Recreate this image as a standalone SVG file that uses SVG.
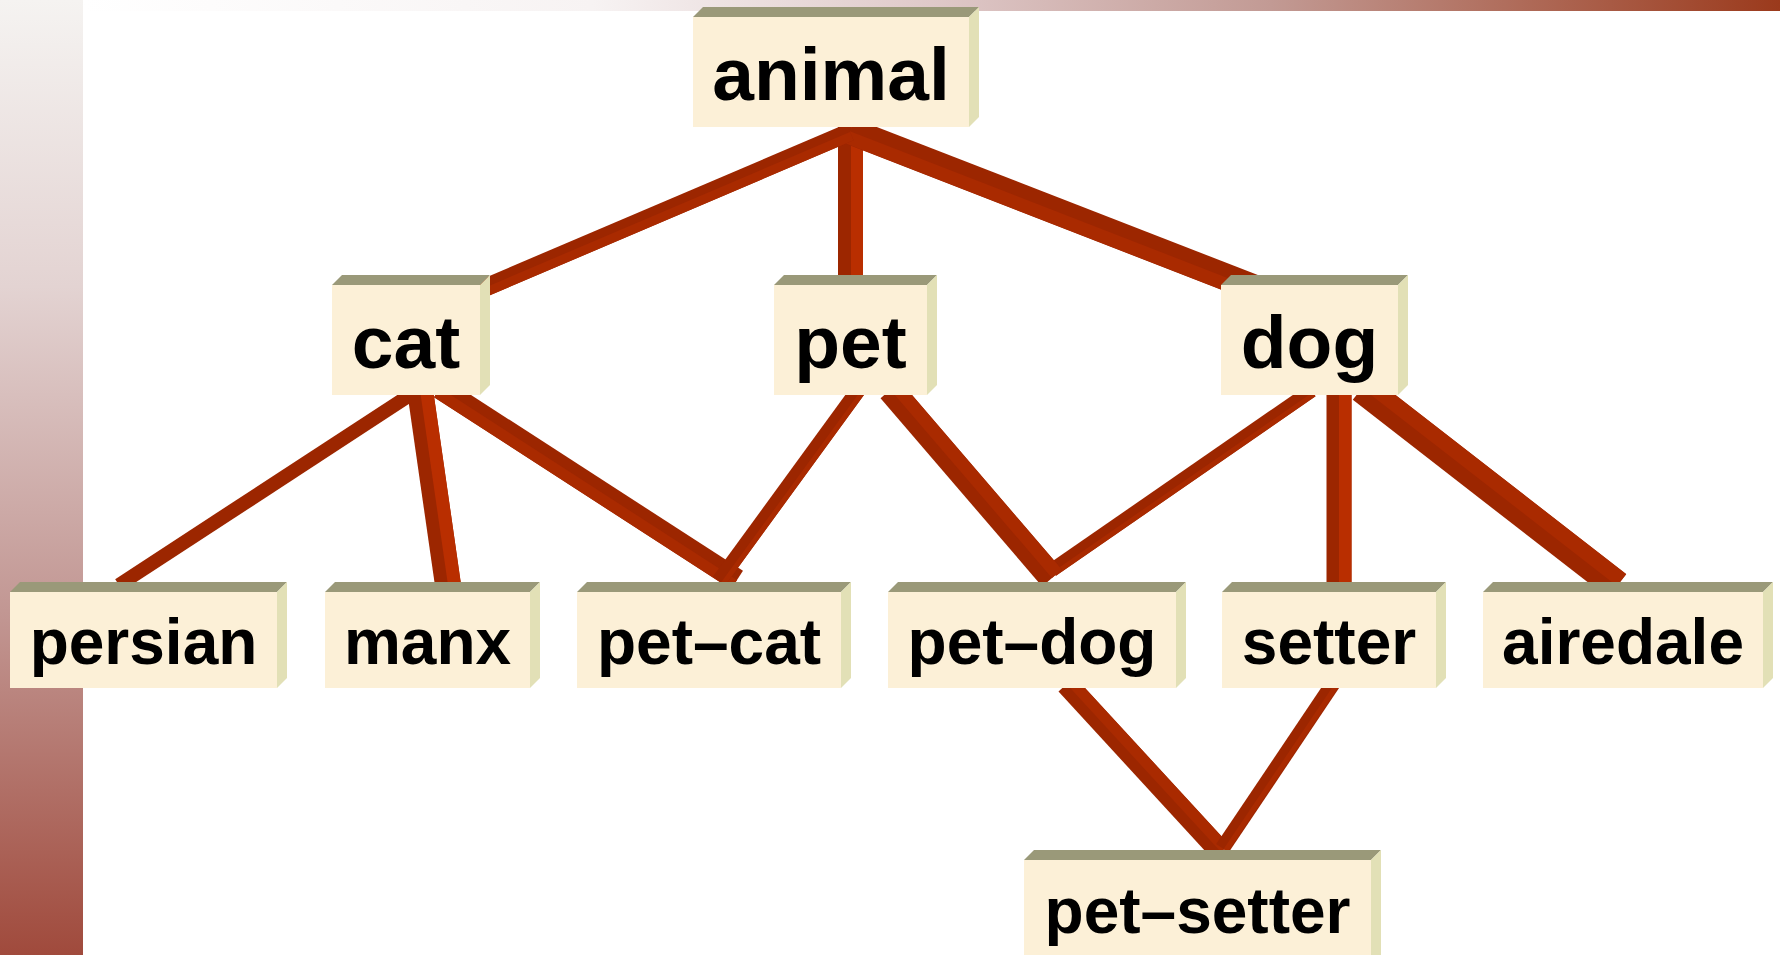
<svg xmlns="http://www.w3.org/2000/svg" width="1780" height="955" viewBox="0 0 1780 955">
  <defs>
    <linearGradient id="sideBand" x1="0" y1="0" x2="0" y2="1">
      <stop offset="0" stop-color="#f5f3f1"/>
      <stop offset="0.3" stop-color="#e3d3d2"/>
      <stop offset="0.65" stop-color="#c19591"/>
      <stop offset="1" stop-color="#a04a3c"/>
    </linearGradient>
    <linearGradient id="topBand" x1="0" y1="0" x2="1" y2="0">
      <stop offset="0" stop-color="#ffffff"/>
      <stop offset="0.3" stop-color="#f7f3f3"/>
      <stop offset="0.5" stop-color="#dfc9c9"/>
      <stop offset="0.7" stop-color="#c29a94"/>
      <stop offset="1" stop-color="#9b3a1c"/>
    </linearGradient>
    <style>
      .front { fill: #fcf0d7; }
      .top { fill: #9a9979; }
      .side { fill: #e2e0b6; }
      .lbl { font-family: "Liberation Sans", Arial, sans-serif; font-weight: bold; fill: #000; text-anchor: middle; }
      .big { font-size: 75px; }
      .small { font-size: 64px; }
      .beam { stroke: #9c2600; stroke-linecap: butt; fill: none; }
      .mid { stroke: #a92a00; stroke-linecap: butt; fill: none; }
      .lite { stroke: #b92e00; stroke-linecap: butt; fill: none; }
    </style>
  </defs>

  <!-- page background bands -->
  <rect x="0" y="0" width="1780" height="955" fill="#ffffff"/>
  <rect x="0" y="0" width="83" height="955" fill="url(#sideBand)"/>
  <rect x="83" y="0" width="1697" height="11" fill="url(#topBand)"/>

  <!-- connectors: 3D beams -->
  <g id="connectors">
    <!-- animal - pet -->
    <line class="beam" x1="850.5" y1="120" x2="850.5" y2="282" stroke-width="25"/>
    <line class="lite" x1="857" y1="120" x2="857" y2="282" stroke-width="12"/>
    <!-- animal - dog -->
    <line class="beam" x1="850" y1="131" x2="1290" y2="302" stroke-width="27"/>
    <line class="mid" x1="847.6" y1="137.3" x2="1287.6" y2="308.3" stroke-width="13"/>
    <!-- animal - cat -->
    <line class="beam" x1="850" y1="132" x2="470" y2="294" stroke-width="18"/>
    <line class="mid" x1="851.8" y1="136.1" x2="471.8" y2="298.1" stroke-width="9"/>
    <!-- cat - persian -->
    <line class="beam" x1="417.6" y1="390" x2="119" y2="585" stroke-width="14"/>
    <!-- cat - manx -->
    <line class="beam" x1="420" y1="390" x2="448" y2="585" stroke-width="26"/>
    <line class="lite" x1="426.4" y1="389.1" x2="454.4" y2="584.1" stroke-width="13"/>
    <!-- cat - pet-cat -->
    <line class="beam" x1="440" y1="388" x2="737" y2="580" stroke-width="22"/>
    <line class="mid" x1="437" y1="392.6" x2="734" y2="584.6" stroke-width="11"/>
    <!-- pet - pet-cat -->
    <line class="beam" x1="859" y1="389" x2="719" y2="581" stroke-width="15"/>
    <line class="mid" x1="863" y1="392" x2="723" y2="584" stroke-width="5"/>
    <!-- dog - pet-dog -->
    <line class="beam" x1="1311.6" y1="390.5" x2="1052" y2="570" stroke-width="14"/>
    <line class="mid" x1="1314.1" y1="394.2" x2="1054.5" y2="573.7" stroke-width="5"/>
    <!-- pet - pet-dog -->
    <line class="beam" x1="890.4" y1="389.7" x2="1052" y2="578" stroke-width="26"/>
    <line class="mid" x1="895.3" y1="385.5" x2="1056.9" y2="573.8" stroke-width="13"/>
    <!-- dog - setter -->
    <line class="beam" x1="1339" y1="390" x2="1339" y2="585" stroke-width="25"/>
    <line class="lite" x1="1345.25" y1="390" x2="1345.25" y2="585" stroke-width="12.5"/>
    <!-- dog - airedale -->
    <line class="beam" x1="1362" y1="388" x2="1617" y2="586" stroke-width="30"/>
    <line class="mid" x1="1366.6" y1="382" x2="1621.6" y2="580" stroke-width="15"/>
    <!-- pet-dog - pet-setter -->
    <line class="beam" x1="1066.6" y1="684.1" x2="1221" y2="852" stroke-width="22"/>
    <line class="mid" x1="1070.6" y1="680.4" x2="1225" y2="848.3" stroke-width="11"/>
    <!-- setter - pet-setter -->
    <line class="beam" x1="1334.5" y1="681.4" x2="1222.4" y2="848.3" stroke-width="15"/>
    <line class="mid" x1="1337.8" y1="683.6" x2="1225.7" y2="850.5" stroke-width="5"/>
  </g>

  <!-- nodes: raised boxes (front face, top bevel, right bevel, label) -->
  <g id="animal">
    <polygon class="top" points="693,17 703,7 979,7 969,17"/>
    <polygon class="side" points="969,17 979,7 979,117 969,127"/>
    <rect class="front" x="693" y="17" width="276" height="110"/>
    <text class="lbl big" x="831" y="100">animal</text>
  </g>
  <g id="cat">
    <polygon class="top" points="332,285 342,275 490,275 480,285"/>
    <polygon class="side" points="480,285 490,275 490,385 480,395"/>
    <rect class="front" x="332" y="285" width="148" height="110"/>
    <text class="lbl big" x="406" y="368">cat</text>
  </g>
  <g id="pet">
    <polygon class="top" points="774,285 784,275 937,275 927,285"/>
    <polygon class="side" points="927,285 937,275 937,385 927,395"/>
    <rect class="front" x="774" y="285" width="153" height="110"/>
    <text class="lbl big" x="850.5" y="368">pet</text>
  </g>
  <g id="dog">
    <polygon class="top" points="1221,285 1231,275 1408,275 1398,285"/>
    <polygon class="side" points="1398,285 1408,275 1408,385 1398,395"/>
    <rect class="front" x="1221" y="285" width="177" height="110"/>
    <text class="lbl big" x="1309.5" y="368">dog</text>
  </g>
  <g id="persian">
    <polygon class="top" points="10,592 20,582 287,582 277,592"/>
    <polygon class="side" points="277,592 287,582 287,678 277,688"/>
    <rect class="front" x="10" y="592" width="267" height="96"/>
    <text class="lbl small" x="143.5" y="664">persian</text>
  </g>
  <g id="manx">
    <polygon class="top" points="325,592 335,582 540,582 530,592"/>
    <polygon class="side" points="530,592 540,582 540,678 530,688"/>
    <rect class="front" x="325" y="592" width="205" height="96"/>
    <text class="lbl small" x="427.5" y="664">manx</text>
  </g>
  <g id="pet-cat">
    <polygon class="top" points="577,592 587,582 851,582 841,592"/>
    <polygon class="side" points="841,592 851,582 851,678 841,688"/>
    <rect class="front" x="577" y="592" width="264" height="96"/>
    <text class="lbl small" x="709" y="664">pet–cat</text>
  </g>
  <g id="pet-dog">
    <polygon class="top" points="888,592 898,582 1186,582 1176,592"/>
    <polygon class="side" points="1176,592 1186,582 1186,678 1176,688"/>
    <rect class="front" x="888" y="592" width="288" height="96"/>
    <text class="lbl small" x="1032" y="664">pet–dog</text>
  </g>
  <g id="setter">
    <polygon class="top" points="1222,592 1232,582 1446,582 1436,592"/>
    <polygon class="side" points="1436,592 1446,582 1446,678 1436,688"/>
    <rect class="front" x="1222" y="592" width="214" height="96"/>
    <text class="lbl small" x="1329" y="664">setter</text>
  </g>
  <g id="airedale">
    <polygon class="top" points="1483,592 1493,582 1773,582 1763,592"/>
    <polygon class="side" points="1763,592 1773,582 1773,678 1763,688"/>
    <rect class="front" x="1483" y="592" width="280" height="96"/>
    <text class="lbl small" x="1623" y="664">airedale</text>
  </g>
  <g id="pet-setter">
    <polygon class="top" points="1024,860 1034,850 1381,850 1371,860"/>
    <polygon class="side" points="1371,860 1381,850 1381,955 1371,955"/>
    <rect class="front" x="1024" y="860" width="347" height="95"/>
    <text class="lbl small" x="1197.5" y="933">pet–setter</text>
  </g>
</svg>
